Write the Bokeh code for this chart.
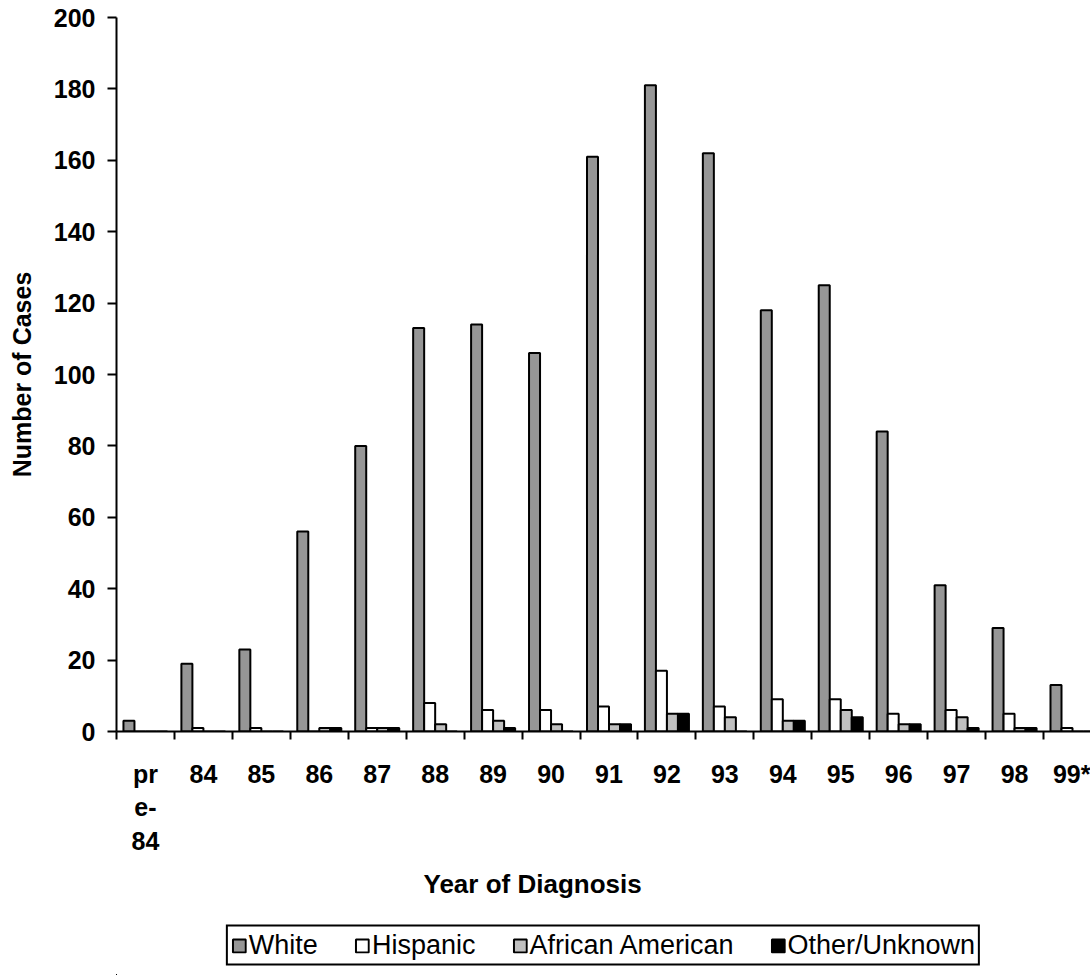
import numpy as np
from bokeh.plotting import figure
from bokeh.layouts import column
from bokeh.models import ColumnDataSource, Range1d, FixedTicker, Legend, LegendItem, Title
from bokeh.embed import file_html
from bokeh.resources import INLINE

# ---- data ----
years = ["pr\ne-\n84", "84", "85", "86", "87", "88", "89", "90", "91",
         "92", "93", "94", "95", "96", "97", "98", "99*"]
white = [3, 19, 23, 56, 80, 113, 114, 106, 161, 181, 162, 118, 125, 84, 41, 29, 13]
hispanic = [0, 1, 1, 0, 1, 8, 6, 6, 7, 17, 7, 9, 9, 5, 6, 5, 1]
african_american = [0, 0, 0, 1, 1, 2, 3, 2, 2, 5, 4, 3, 6, 2, 4, 1, 0]
other_unknown = [0, 0, 0, 1, 1, 0, 1, 0, 2, 5, 0, 3, 4, 2, 1, 1, 0]
series_names = ["White", "Hispanic", "African American", "Other/Unknown"]
y_ticks = list(range(0, 201, 20))

# ---- styles ----
colors = ["#969696", "#FFFFFF", "#C0C0C0", "#000000"]
FONT = "Liberation Sans"
bar_w = 0.19
cat_px = 57.94

n = len(years)
idx = np.arange(n)

W = 1090
H1, H2 = 915, 60
left_b, top_b = 116, 17
frame_h = 714
frame_w = W - left_b
p = figure(width=W, height=H1,
           x_range=Range1d(-0.5, -0.5 + frame_w / cat_px),
           y_range=Range1d(0, 200),
           output_backend="svg", toolbar_location=None,
           min_border_left=left_b, min_border_right=0,
           min_border_top=top_b, min_border_bottom=H1 - top_b - frame_h)
p.outline_line_color = None
p.xgrid.visible = False
p.ygrid.visible = False
p.background_fill_color = "white"
p.border_fill_color = "white"

all_series = [white, hispanic, african_american, other_unknown]
sources = []
for k, (vals, col) in enumerate(zip(all_series, colors)):
    src = ColumnDataSource(dict(x=idx + (k - 1.5) * bar_w, top=vals))
    sources.append(src)
    p.vbar(x="x", top="top", bottom=0, width=bar_w, source=src,
           fill_color=col, line_color="black", line_width=2)

# y axis
ya = p.yaxis[0]
ya.ticker = FixedTicker(ticks=y_ticks)
ya.axis_line_width = 2
ya.major_tick_line_width = 2
ya.major_tick_out = 9
ya.major_tick_in = 0
ya.minor_tick_line_color = None
ya.major_label_standoff = 12
ya.major_label_text_font = FONT
ya.major_label_text_font_style = "bold"
ya.major_label_text_font_size = "25px"
ya.major_label_text_color = "black"
ya.axis_label = "Number of Cases"
ya.axis_label_text_font = FONT
ya.axis_label_text_font_style = "bold"
ya.axis_label_text_font_size = "25px"
ya.axis_label_text_color = "black"
ya.axis_label_standoff = 15

# x axis
xa = p.xaxis[0]
xa.ticker = FixedTicker(ticks=list(range(n)), minor_ticks=[i - 0.5 for i in range(n)])
xa.major_label_overrides = {i: lab for i, lab in enumerate(years)}
xa.axis_line_width = 2
xa.major_tick_out = 0
xa.major_tick_in = 0
xa.major_tick_line_color = None
xa.minor_tick_out = 8
xa.minor_tick_in = 0
xa.minor_tick_line_width = 2
xa.minor_tick_line_color = "black"
xa.major_label_standoff = 20
xa.major_label_text_font = FONT
xa.major_label_text_font_style = "bold"
xa.major_label_text_font_size = "25px"
xa.major_label_text_color = "black"
xa.major_label_text_line_height = 1.2

# x axis title (offset so it sits where the reference has it)
p.add_layout(Title(text="Year of Diagnosis", align="left", offset=307, standoff=18,
                   text_font=FONT, text_font_style="bold", text_font_size="26px",
                   text_color="black"), "below")

# ---- legend strip below the chart ----
# swatch renderers reuse the series sources but as zero-size bars far outside the strip's view
p2 = figure(width=W, height=H2, x_range=Range1d(1000, 1001), y_range=Range1d(1000, 1001),
            output_backend="svg", toolbar_location=None,
            x_axis_location=None, y_axis_location=None,
            min_border_left=left_b, min_border_right=0, min_border_top=0, min_border_bottom=0)
p2.outline_line_color = None
p2.xgrid.visible = False
p2.ygrid.visible = False
p2.border_fill_color = "white"
swatches = []
for src, col in zip(sources, colors):
    swatches.append(p2.vbar(x="x", top="top", bottom="top", width=0, source=src,
                            fill_color=col, line_color="black", line_width=2))

legend = Legend(items=[LegendItem(label=nm, renderers=[r]) for nm, r in zip(series_names, swatches)],
                orientation="horizontal", location="center",
                border_line_color="black", border_line_width=2, border_line_alpha=1,
                background_fill_color="white", background_fill_alpha=1,
                padding=3, spacing=36, label_standoff=2, margin=0,
                glyph_width=16, glyph_height=16,
                label_text_font=FONT, label_text_font_size="27px", label_text_color="black",
                label_text_line_height=1.0)
p2.add_layout(legend)

layout = column(p, p2, spacing=0)
open("out.html", "w").write(file_html(layout, INLINE))
